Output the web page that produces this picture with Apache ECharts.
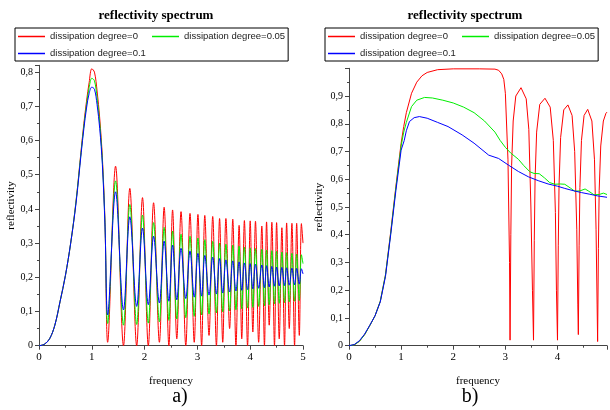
<!DOCTYPE html>
<html><head><meta charset="utf-8">
<script src="https://cdn.jsdelivr.net/npm/echarts@6/dist/echarts.min.js"></script>
<style>html,body{margin:0;padding:0;background:#fff}#c{width:610px;height:410px}</style>
</head><body><div id="c"></div>
<script>
const legendNames = ['dissipation degree=0', 'dissipation degree=0.05', 'dissipation degree=0.1'];
const seriesColors = ['#ff0000', '#00ee00', '#0000ff'];

// ---- chart a) ----
const aLobeF = [0, 0.1, 0.2, 0.3, 0.4, 0.5, 0.6, 0.7, 0.8, 0.85, 0.9, 0.95, 1.0, 1.05, 1.1, 1.15, 1.2, 1.25];
const aLobeRed = [0, 0.004, 0.02, 0.06, 0.13, 0.205, 0.30, 0.42, 0.575, 0.65, 0.715, 0.77, 0.81, 0.80, 0.745, 0.665, 0.55, 0.36];
const aLobeGreen = [0, 0.004, 0.02, 0.06, 0.13, 0.205, 0.30, 0.42, 0.57, 0.643, 0.705, 0.755, 0.782, 0.775, 0.725, 0.65, 0.54, 0.355];
const aLobeBlue = [0, 0.004, 0.02, 0.06, 0.13, 0.205, 0.30, 0.415, 0.565, 0.635, 0.695, 0.738, 0.756, 0.75, 0.705, 0.635, 0.53, 0.35];

const aTroughF = [1.30, 1.60, 1.85, 2.07, 2.28, 2.46, 2.61, 2.78, 2.94, 3.08, 3.22, 3.36, 3.48, 3.61, 3.73, 3.84, 3.95, 4.05, 4.16, 4.27, 4.36, 4.46, 4.55, 4.65, 4.74, 4.84, 4.93];
const aPeakF = [1.45, 1.72, 1.96, 2.17, 2.37, 2.53, 2.69, 2.86, 3.01, 3.14, 3.29, 3.42, 3.54, 3.67, 3.79, 3.89, 4.00, 4.10, 4.22, 4.31, 4.41, 4.50, 4.60, 4.69, 4.79, 4.88, 4.97];

const aTroughRed = [0.01, 0.0, 0.0, 0.0, 0.01, 0.0, 0.02, 0.0, 0.01, 0.0, 0.03, 0.0, 0.01, 0.05, 0.0, 0.02, 0.0, 0.04, 0.01, 0.0, 0.06, 0.0, 0.02, 0.0, 0.05, 0.0, 0.03];
const aPeakRed = [0.525, 0.46, 0.433, 0.418, 0.405, 0.397, 0.392, 0.387, 0.384, 0.381, 0.378, 0.372, 0.372, 0.37, 0.352, 0.366, 0.365, 0.364, 0.35, 0.362, 0.361, 0.36, 0.345, 0.359, 0.358, 0.358, 0.357];
const aTroughGreen = [0.065, 0.06, 0.062, 0.066, 0.07, 0.074, 0.078, 0.082, 0.086, 0.09, 0.093, 0.096, 0.099, 0.102, 0.105, 0.108, 0.11, 0.112, 0.115, 0.117, 0.12, 0.122, 0.124, 0.126, 0.128, 0.13, 0.132];
const aPeakGreen = [0.482, 0.413, 0.382, 0.36, 0.346, 0.335, 0.326, 0.32, 0.315, 0.31, 0.305, 0.30, 0.297, 0.294, 0.291, 0.288, 0.286, 0.284, 0.282, 0.28, 0.278, 0.276, 0.274, 0.272, 0.27, 0.268, 0.266];
const aTroughBlue = [0.09, 0.105, 0.115, 0.12, 0.125, 0.13, 0.134, 0.138, 0.142, 0.145, 0.148, 0.151, 0.154, 0.157, 0.16, 0.162, 0.164, 0.166, 0.168, 0.17, 0.172, 0.174, 0.175, 0.176, 0.177, 0.178, 0.18];
const aPeakBlue = [0.45, 0.377, 0.344, 0.32, 0.306, 0.294, 0.285, 0.277, 0.27, 0.264, 0.259, 0.255, 0.251, 0.248, 0.245, 0.242, 0.24, 0.238, 0.236, 0.234, 0.232, 0.23, 0.229, 0.228, 0.227, 0.226, 0.225];
const aEndF = 5.0;
const aEndVals = [0.30, 0.24, 0.21];

// ---- chart b) ----
const bRedF = [0,0.1,0.2,0.3,0.4,0.5,0.6,0.7,0.8,0.9,1.0,1.05,1.1,1.2,1.3,1.4,1.5,1.7,2.0,2.5,2.8,2.87,2.93,2.97,3.0,3.05,3.08,3.09,
  3.105,3.12,3.15,3.20,3.30,3.40,3.45,3.49,3.52,3.54,
  3.555,3.57,3.60,3.66,3.76,3.86,3.92,3.96,3.98,4.0,
  4.015,4.03,4.06,4.12,4.2,4.28,4.33,4.37,4.39,4.40,
  4.415,4.43,4.46,4.51,4.58,4.66,4.71,4.74,4.76,4.77,
  4.785,4.80,4.83,4.88,4.93,4.95];
const bRedV = [0,0.003,0.016,0.04,0.073,0.108,0.16,0.255,0.41,0.575,0.73,0.79,0.84,0.91,0.95,0.973,0.985,0.995,0.998,0.998,0.997,0.993,0.98,0.96,0.91,0.67,0.3,0.02,
  0.4,0.65,0.81,0.9,0.93,0.89,0.78,0.5,0.2,0.02,
  0.38,0.6,0.77,0.87,0.892,0.86,0.74,0.48,0.2,0.02,
  0.36,0.58,0.75,0.85,0.868,0.83,0.7,0.42,0.15,0.04,
  0.36,0.57,0.74,0.83,0.852,0.81,0.67,0.42,0.15,0.015,
  0.35,0.56,0.72,0.81,0.838,0.842];
const bGreenF = [0,0.1,0.2,0.3,0.4,0.5,0.6,0.7,0.8,0.9,1.0,1.05,1.1,1.2,1.3,1.45,1.6,1.8,2.0,2.2,2.4,2.6,2.8,2.9,3.0,3.1,3.25,3.35,3.47,3.55,3.65,3.75,3.85,3.95,4.05,4.14,4.25,4.33,4.43,4.53,4.6,4.7,4.8,4.88,4.95];
const bGreenV = [0,0.003,0.016,0.04,0.073,0.108,0.16,0.255,0.405,0.57,0.72,0.77,0.805,0.862,0.885,0.895,0.893,0.885,0.875,0.86,0.84,0.81,0.77,0.74,0.715,0.695,0.672,0.65,0.627,0.621,0.62,0.605,0.588,0.582,0.583,0.582,0.568,0.557,0.558,0.565,0.557,0.544,0.545,0.55,0.545];
const bBlueF = [0,0.1,0.2,0.3,0.4,0.5,0.6,0.7,0.8,0.9,1.0,1.06,1.1,1.16,1.25,1.35,1.5,1.7,1.9,2.17,2.4,2.68,2.87,3.06,3.25,3.44,3.63,3.82,4.0,4.14,4.3,4.46,4.62,4.77,4.95];
const bBlueV = [0,0.004,0.018,0.042,0.074,0.108,0.158,0.25,0.4,0.56,0.705,0.74,0.775,0.808,0.822,0.826,0.82,0.805,0.79,0.76,0.73,0.687,0.675,0.651,0.628,0.609,0.595,0.583,0.575,0.567,0.559,0.552,0.546,0.54,0.535];

const xTicksA = [0, 1, 2, 3, 4, 5];

function zipXY(xs, ys) { return xs.map((x, i) => [x, ys[i]]); }
function buildA(lobeV, troughV, peakV, endV) {
  const pts = zipXY(aLobeF, lobeV);
  for (let i = 0; i < aTroughF.length; i++) {
    pts.push([aTroughF[i], troughV[i]]);
    pts.push([aPeakF[i], peakV[i]]);
  }
  pts.push([aEndF, endV]);
  return pts;
}
const aData = [
  buildA(aLobeRed, aTroughRed, aPeakRed, aEndVals[0]),
  buildA(aLobeGreen, aTroughGreen, aPeakGreen, aEndVals[1]),
  buildA(aLobeBlue, aTroughBlue, aPeakBlue, aEndVals[2])
];
const bData = [zipXY(bRedF, bRedV), zipXY(bGreenF, bGreenV), zipXY(bBlueF, bBlueV)];

const serif = 'Liberation Serif, Times New Roman, serif';
const sans = 'Liberation Sans, Arial, sans-serif';
const axCol = '#444';

function yFmt(hideOne) {
  return v => {
    if (Math.abs(v * 10 - Math.round(v * 10)) > 1e-6) return '';
    if (hideOne && v > 0.99) return '';
    if (Math.abs(v) < 1e-9) return '0';
    return v.toFixed(1).replace('.', ',');
  };
}
function xFmt(v) {
  if (Math.abs(v - Math.round(v)) > 1e-6) return '';
  return xTicksA.indexOf(Math.round(v)) >= 0 ? String(Math.round(v)) : '';
}
function xAx(idx, max) {
  return {
    type: 'value', gridIndex: idx, min: 0, max: max, interval: 1,
    name: 'frequency', nameLocation: 'middle', nameGap: 30,
    nameTextStyle: { fontFamily: serif, fontSize: 11, color: '#000' },
    axisLine: { show: true, onZero: false, lineStyle: { color: axCol, width: 1 } },
    axisTick: { show: true, length: 4, lineStyle: { color: axCol } },
    minorTick: { show: true, splitNumber: 2, length: 2, lineStyle: { color: axCol } },
    splitLine: { show: false }, minorSplitLine: { show: false },
    axisLabel: { fontFamily: serif, fontSize: 11, color: '#000', margin: 6, formatter: xFmt, showMaxLabel: true }
  };
}
function yAx(idx, max, hideOne, gap) {
  return {
    type: 'value', gridIndex: idx, min: 0, max: max, interval: 0.1,
    name: 'reflectivity', nameLocation: 'middle', nameGap: gap, nameRotate: 90,
    nameTextStyle: { fontFamily: serif, fontSize: 11, color: '#000' },
    axisLine: { show: true, onZero: false, lineStyle: { color: axCol, width: 1 } },
    axisTick: { show: true, length: 4, lineStyle: { color: axCol } },
    minorTick: { show: true, splitNumber: 2, length: 2, lineStyle: { color: axCol } },
    splitLine: { show: false }, minorSplitLine: { show: false },
    axisLabel: { fontFamily: serif, fontSize: 10, color: '#000', margin: 6, formatter: yFmt(hideOne) }
  };
}
function legend(left) {
  return {
    data: legendNames, left: left, top: 28, orient: 'horizontal', width: 320,
    icon: 'rect', itemWidth: 27, itemHeight: 1.5, itemGap: 6,
    padding: [3, 3, 2, 3], borderColor: '#000', borderWidth: 1,
    textStyle: { fontFamily: sans, fontSize: 9.5, color: '#222', width: 96, lineHeight: 11, overflow: 'none' }
  };
}
const series = [];
for (let i = 0; i < 3; i++) {
  series.push({ name: legendNames[i], type: 'line', xAxisIndex: 0, yAxisIndex: 0, data: aData[i], smooth: 0.35,
    showSymbol: false, symbol: 'none', lineStyle: { width: 1, color: seriesColors[i] }, itemStyle: { color: seriesColors[i] } });
}
for (let i = 0; i < 3; i++) {
  series.push({ name: legendNames[i], type: 'line', xAxisIndex: 1, yAxisIndex: 1, data: bData[i],
    showSymbol: false, symbol: 'none', lineStyle: { width: 1, color: seriesColors[i] }, itemStyle: { color: seriesColors[i] } });
}
const chart = echarts.init(document.getElementById('c'), null, { renderer: 'canvas' });
chart.setOption({
  animation: false,
  backgroundColor: '#fff',
  title: [
    { text: 'reflectivity spectrum', left: 156, top: 9, padding: 0, textAlign: 'center', textStyle: { fontFamily: serif, fontSize: 13, fontWeight: 'bold', color: '#000' } },
    { text: 'reflectivity spectrum', left: 465, top: 9, padding: 0, textAlign: 'center', textStyle: { fontFamily: serif, fontSize: 13, fontWeight: 'bold', color: '#000' } },
    { text: 'a)', left: 180, top: 387, padding: 0, textAlign: 'center', textStyle: { fontFamily: serif, fontSize: 20, fontWeight: 'normal', color: '#000' } },
    { text: 'b)', left: 470, top: 387, padding: 0, textAlign: 'center', textStyle: { fontFamily: serif, fontSize: 20, fontWeight: 'normal', color: '#000' } }
  ],
  legend: [legend(15), legend(325)],
  grid: [
    { left: 39, top: 65.3, width: 264, height: 280.4, containLabel: false },
    { left: 349, top: 68.3, width: 260.4, height: 277.4, containLabel: false }
  ],
  xAxis: [xAx(0, 5), xAx(1, 4.95)],
  yAxis: [yAx(0, 0.82, false, 22), yAx(1, 1, true, 24)],
  series: series
});
</script>
</body></html>
